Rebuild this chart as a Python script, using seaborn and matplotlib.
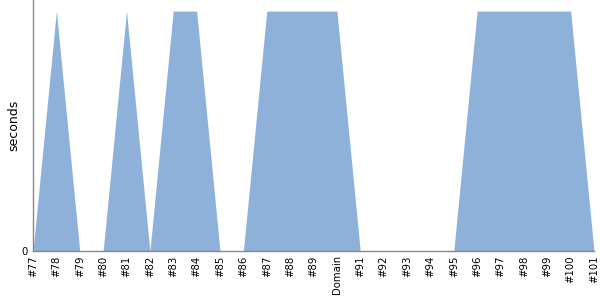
import matplotlib
matplotlib.use("Agg")
import matplotlib.pyplot as plt
import seaborn as sns
import numpy as np
import pandas as pd

categories = ["#77", "#78", "#79", "#80", "#81", "#82", "#83", "#84", "#85", "#86",
              "#87", "#88", "#89", "Domain", "#91", "#92", "#93", "#94", "#95", "#96",
              "#97", "#98", "#99", "#100", "#101"]
seconds = [0, 1, 0, 0, 1, 0, 1, 1, 0, 0,
           1, 1, 1, 1, 0, 0, 0, 0, 0, 1,
           1, 1, 1, 1, 0]

sns.set_style("white")
plt.rcParams['font.family'] = ['DejaVu Sans']
plt.rcParams['text.color'] = 'black'
plt.rcParams['axes.labelcolor'] = 'black'
plt.rcParams['xtick.color'] = 'black'
plt.rcParams['ytick.color'] = 'black'

df = pd.DataFrame({"idx": np.arange(len(categories)), "seconds": seconds})

fig = plt.figure(figsize=(6, 3), dpi=100)
ax = fig.add_axes([0.055, 0.163, 0.935, 0.837])
sns.lineplot(data=df, x="idx", y="seconds", ax=ax, color="#8EB1DA", linewidth=0)
ax.fill_between(df["idx"], df["seconds"], color="#8EB1DA", alpha=1, linewidth=0)

ax.set_xlim(0, len(categories) - 1)
ax.set_ylim(0, 1.046)
ax.set_xticks(df["idx"])
ax.set_xticklabels(categories, rotation=90, fontsize=7.3)
ax.set_yticks([0])
ax.set_yticklabels(["0"], fontsize=7.3)
ax.set_xlabel("")
ax.set_ylabel("seconds", fontsize=9)
ax.yaxis.set_label_coords(-0.022, 0.5)
for s in ["top", "right"]:
    ax.spines[s].set_visible(False)
for s in ["left", "bottom"]:
    ax.spines[s].set_color("#888888")
    ax.spines[s].set_linewidth(1)
ax.tick_params(axis="y", length=3, color="#888888", pad=1, labelcolor="black")
ax.tick_params(axis="x", length=0, pad=3, labelcolor="black")

fig.savefig("out.png", dpi=100)
